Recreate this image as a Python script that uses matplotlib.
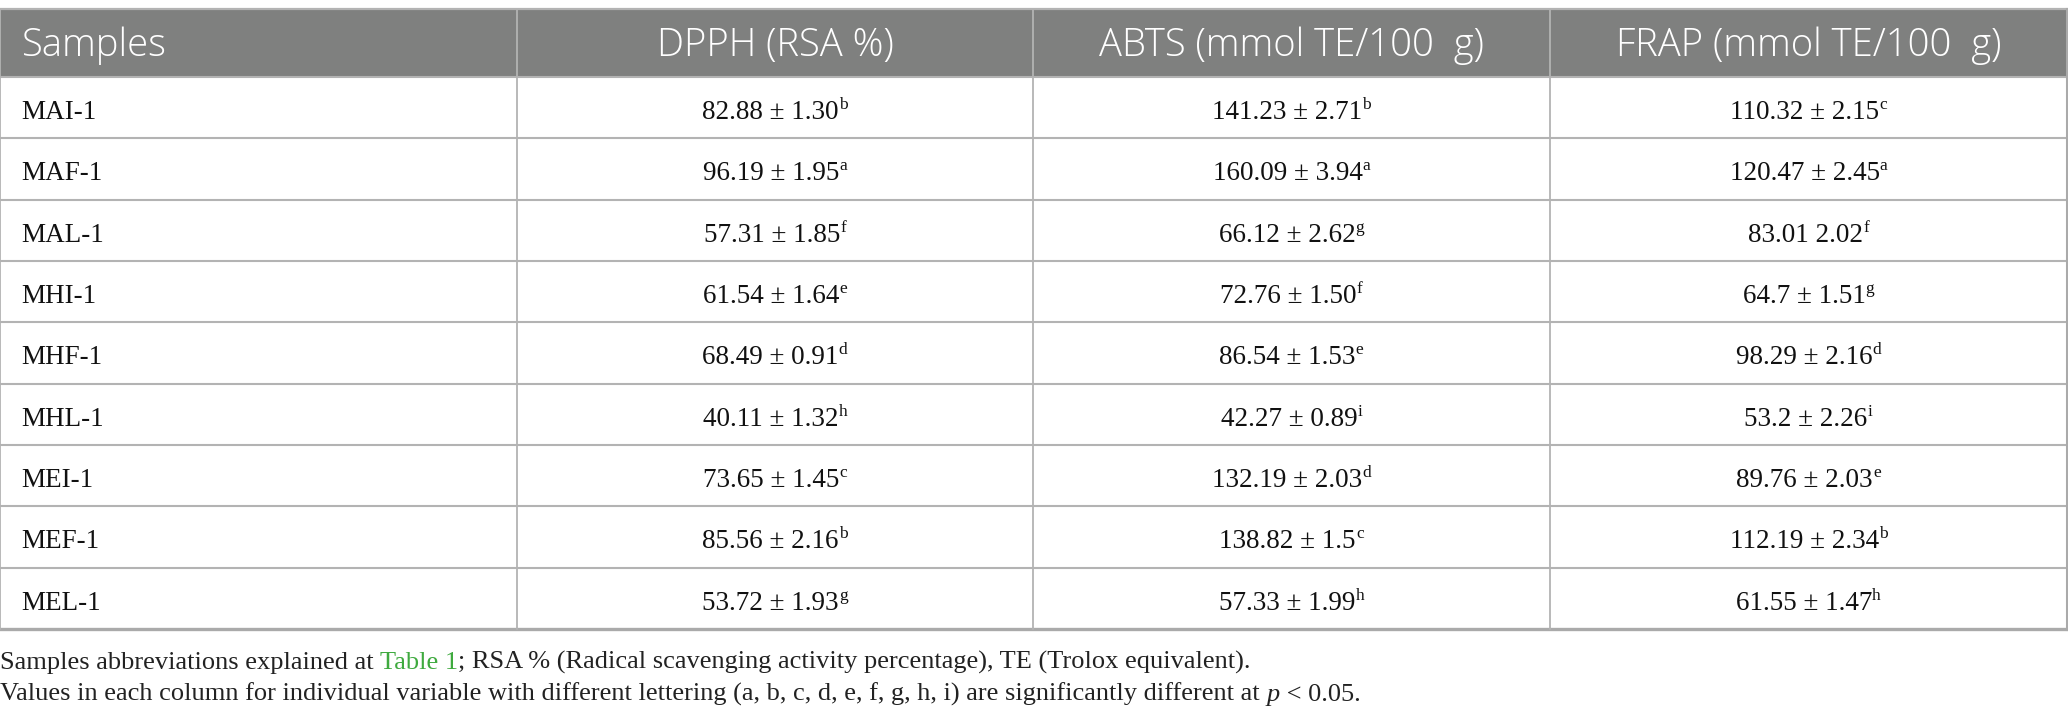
import matplotlib
matplotlib.use("Agg")
import matplotlib.pyplot as plt
from matplotlib.patches import Rectangle

# ---------------- data ----------------
headers = ["Samples", "DPPH (RSA %)", "ABTS (mmol TE/100  g)", "FRAP (mmol TE/100  g)"]
samples = ["MAI-1", "MAF-1", "MAL-1", "MHI-1", "MHF-1", "MHL-1", "MEI-1", "MEF-1", "MEL-1"]
dpph = ["82.88 ± 1.30", "96.19 ± 1.95", "57.31 ± 1.85", "61.54 ± 1.64", "68.49 ± 0.91",
        "40.11 ± 1.32", "73.65 ± 1.45", "85.56 ± 2.16", "53.72 ± 1.93"]
dpph_sup = ["b", "a", "f", "e", "d", "h", "c", "b", "g"]
abts = ["141.23 ± 2.71", "160.09 ± 3.94", "66.12 ± 2.62", "72.76 ± 1.50", "86.54 ± 1.53",
        "42.27 ± 0.89", "132.19 ± 2.03", "138.82 ± 1.5", "57.33 ± 1.99"]
abts_sup = ["b", "a", "g", "f", "e", "i", "d", "c", "h"]
frap = ["110.32 ± 2.15", "120.47 ± 2.45", "83.01 2.02", "64.7 ± 1.51", "98.29 ± 2.16",
        "53.2 ± 2.26", "89.76 ± 2.03", "112.19 ± 2.34", "61.55 ± 1.47"]
frap_sup = ["c", "a", "f", "g", "d", "i", "e", "b", "h"]

note1 = [("Samples abbreviations explained at ", "#222222", "normal"),
         ("Table 1", "#3faa3f", "normal"),
         ("; RSA % (Radical scavenging activity percentage), TE (Trolox equivalent).", "#222222", "normal")]
note2 = [("Values in each column for individual variable with different lettering (a, b, c, d, e, f, g, h, i) are significantly different at ", "#222222", "normal"),
         ("p", "#222222", "italic"),
         (" < 0.05.", "#222222", "normal")]

# ---------------- layout ----------------
W, H = 2068, 723
fig = plt.figure(figsize=(W / 100, H / 100), dpi=100)
ax = fig.add_axes([0, 0, 1, 1])
ax.set_xlim(0, W)
ax.set_ylim(H, 0)
ax.axis("off")

col_x = [0, 517, 1033, 1550, 2067]
top, head_bot, bot = 9, 77, 629
nrows = len(samples)
rh = (bot - head_bot) / nrows
line_c = "#b3b3b3"
head_bg = "#7f807f"
serif = "Liberation Serif"
body_fs = 19.5
sup_fs = 12.5
head_fs = 27.5

ax.add_patch(Rectangle((0, top), col_x[-1], head_bot - top, facecolor=head_bg,
                       edgecolor="none", zorder=1))
# horizontal lines
ax.plot([0, col_x[-1]], [top, top], color=line_c, lw=1.6, zorder=3)
for i in range(nrows):
    y = head_bot + i * rh
    ax.plot([0, col_x[-1]], [y, y], color=line_c, lw=1.5, zorder=3)
ax.plot([0, col_x[-1]], [bot, bot], color="#aaaaaa", lw=2.4, zorder=3)
# vertical lines
for k, x in enumerate(col_x):
    lw = 2.2 if k == len(col_x) - 1 else 1.3
    ax.plot([x, x], [top, bot], color=line_c if k < len(col_x) - 1 else "#aaaaaa",
            lw=lw, zorder=3)

# headers
for k, h in enumerate(headers):
    if k == 0:
        ax.text(col_x[0] + 22, 56, h, ha="left", va="baseline", color="white",
                fontsize=head_fs, family="Open Sans", weight="light", zorder=4)
    else:
        ax.text((col_x[k] + col_x[k + 1]) / 2, 56, h, ha="center", va="baseline",
                color="white", fontsize=head_fs, family="Open Sans", weight="light", zorder=4)

fig.canvas.draw()
renderer = fig.canvas.get_renderer()

def width_px(t):
    bb = t.get_window_extent(renderer=renderer)
    return bb.width

for i, s in enumerate(samples):
    yb = head_bot + i * rh + 42
    ax.text(col_x[0] + 21, yb, s, ha="left", va="baseline", fontsize=body_fs,
            family=serif, color="#111111", zorder=4)

for k, (vals, sups) in enumerate([(dpph, dpph_sup), (abts, abts_sup), (frap, frap_sup)]):
    cx = (col_x[k + 1] + col_x[k + 2]) / 2
    for i, (v, sp) in enumerate(zip(vals, sups)):
        yb = head_bot + i * rh + 42
        tm = ax.text(0, yb, v, ha="left", va="baseline", fontsize=body_fs,
                     family=serif, color="#111111", zorder=4)
        ts = ax.text(0, yb - 10, sp, ha="left", va="baseline", fontsize=sup_fs,
                     family=serif, color="#111111", zorder=4)
        wm, ws = width_px(tm), width_px(ts)
        x0 = cx - (wm + ws) / 2
        tm.set_x(x0)
        ts.set_x(x0 + wm)

def draw_segments(segs, x, yb, fs):
    for txt, c, st in segs:
        t = ax.text(x, yb, txt, ha="left", va="baseline", fontsize=fs, family=serif,
                    color=c, style=st, zorder=4)
        x += width_px(t)

draw_segments(note1, 0, 669, 19)
draw_segments(note2, 0, 701, 19)

fig.savefig("out.png", dpi=100)
